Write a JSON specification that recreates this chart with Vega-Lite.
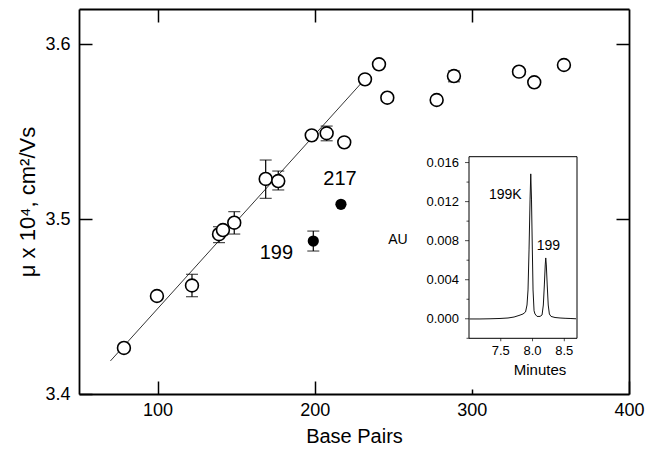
{
  "$schema": "https://vega.github.io/schema/vega-lite/v6.json",
  "width": 550,
  "height": 385,
  "autosize": "none",
  "padding": {"left": 79, "top": 9, "right": 18, "bottom": 57},
  "background": "white",
  "config": {
    "view": {"stroke": null},
    "font": "Liberation Sans",
    "axis": {"grid": false, "domainColor": "black", "tickColor": "black", "labelColor": "black", "titleColor": "black", "titleFontWeight": "normal", "labelFont": "Liberation Sans", "titleFont": "Liberation Sans"}
  },
  "datasets": {
    "points": [
      {"bp": 78.6, "mu": 3.4263, "kind": "open"},
      {"bp": 99.6, "mu": 3.456, "kind": "open"},
      {"bp": 121.9, "mu": 3.462, "lo": 3.4556, "hi": 3.4684, "kind": "open"},
      {"bp": 139.1, "mu": 3.4913, "lo": 3.4865, "hi": 3.4956, "kind": "open"},
      {"bp": 141.6, "mu": 3.4937, "kind": "open"},
      {"bp": 148.8, "mu": 3.4979, "lo": 3.4914, "hi": 3.5042, "kind": "open"},
      {"bp": 168.8, "mu": 3.5229, "lo": 3.5118, "hi": 3.5337, "kind": "open"},
      {"bp": 176.8, "mu": 3.5217, "lo": 3.5166, "hi": 3.5274, "kind": "open"},
      {"bp": 198.1, "mu": 3.5478, "kind": "open"},
      {"bp": 207.6, "mu": 3.549, "lo": 3.5447, "hi": 3.5531, "kind": "open"},
      {"bp": 218.8, "mu": 3.5438, "kind": "open"},
      {"bp": 232.0, "mu": 3.5798, "kind": "open"},
      {"bp": 240.9, "mu": 3.5884, "kind": "open"},
      {"bp": 246.2, "mu": 3.5693, "kind": "open"},
      {"bp": 277.6, "mu": 3.568, "kind": "open"},
      {"bp": 288.6, "mu": 3.5817, "lo": 3.5784, "hi": 3.5846, "kind": "open"},
      {"bp": 330.0, "mu": 3.5842, "kind": "open"},
      {"bp": 339.7, "mu": 3.5781, "kind": "open"},
      {"bp": 358.6, "mu": 3.588, "kind": "open"},
      {"bp": 199.1, "mu": 3.4874, "lo": 3.4817, "hi": 3.4931, "kind": "filled"},
      {"bp": 216.7, "mu": 3.5084, "kind": "filled"}
    ],
    "fit": [
      {"bp": 70, "mu": 3.4189},
      {"bp": 231, "mu": 3.579}
    ],
    "labels": [
      {"bp": 175.6, "mu": 3.4806, "text": "199"},
      {"bp": 216.1, "mu": 3.5229, "text": "217"}
    ],
    "frame": [
      {"t0": 7.0, "t1": 8.7, "a0": -0.002, "a1": 0.0166}
    ],
    "iyticks": [
      {"au": -0.002, "major": false, "label": ""},
      {"au": 0.0, "major": true, "label": "0.000"},
      {"au": 0.002, "major": false, "label": ""},
      {"au": 0.004, "major": true, "label": "0.004"},
      {"au": 0.006, "major": false, "label": ""},
      {"au": 0.008, "major": true, "label": "0.008"},
      {"au": 0.01, "major": false, "label": ""},
      {"au": 0.012, "major": true, "label": "0.012"},
      {"au": 0.014, "major": false, "label": ""},
      {"au": 0.016, "major": true, "label": "0.016"}
    ],
    "ixticks": [
      {"t": 7.5, "label": "7.5"},
      {"t": 8.0, "label": "8.0"},
      {"t": 8.5, "label": "8.5"}
    ],
    "trace": [
      {"t": 7.008, "au": -0.00002},
      {"t": 7.173, "au": -0.00002},
      {"t": 7.331, "au": 0.0},
      {"t": 7.488, "au": 0.00003},
      {"t": 7.614, "au": 0.00008},
      {"t": 7.709, "au": 0.00018},
      {"t": 7.787, "au": 0.00034},
      {"t": 7.85, "au": 0.00049},
      {"t": 7.89, "au": 0.0007},
      {"t": 7.913, "au": 0.00141},
      {"t": 7.929, "au": 0.00295},
      {"t": 7.945, "au": 0.00705},
      {"t": 7.961, "au": 0.01217},
      {"t": 7.972, "au": 0.01484},
      {"t": 7.984, "au": 0.01217},
      {"t": 7.997, "au": 0.00705},
      {"t": 8.008, "au": 0.00295},
      {"t": 8.024, "au": 0.00082},
      {"t": 8.039, "au": 0.00049},
      {"t": 8.071, "au": 0.00024},
      {"t": 8.118, "au": 0.00024},
      {"t": 8.15, "au": 0.00039},
      {"t": 8.17, "au": 0.00141},
      {"t": 8.186, "au": 0.00346},
      {"t": 8.2, "au": 0.00551},
      {"t": 8.208, "au": 0.00623},
      {"t": 8.217, "au": 0.00551},
      {"t": 8.231, "au": 0.00346},
      {"t": 8.247, "au": 0.00141},
      {"t": 8.265, "au": 0.00049},
      {"t": 8.291, "au": 0.00024},
      {"t": 8.354, "au": 0.00013},
      {"t": 8.433, "au": 0.00008},
      {"t": 8.512, "au": 0.00005},
      {"t": 8.591, "au": 0.00003},
      {"t": 8.685, "au": 0.0}
    ],
    "peaks": [
      {"t": 7.572, "au": 0.01268, "text": "199K"},
      {"t": 8.249, "au": 0.00746, "text": "199"}
    ],
    "ititles": [
      {"t": 5.882, "au": 0.00807, "text": "AU"},
      {"t": 8.118, "au": -0.00525, "text": "Minutes"}
    ]
  },
  "layer": [
    {
      "layer": [
        {
          "data": {"name": "fit"},
          "mark": {"type": "line", "color": "black", "strokeWidth": 0.8},
          "encoding": {
            "x": {"field": "bp", "type": "quantitative", "scale": {"domain": [50, 400], "nice": false, "zero": false},
              "axis": {"orient": "bottom", "values": [100, 200, 300, 400], "tickSize": {"condition": {"test": "datum.value == 300", "value": -5}, "value": -13}, "tickWidth": 1.5, "domainWidth": 1.8, "labelFontSize": 18, "labelPadding": {"condition": {"test": "datum.value == 300", "value": 12}, "value": 20}, "labelFlush": false, "labelOverlap": false, "title": "Base Pairs", "titleFontSize": 20, "titlePadding": 7}},
            "y": {"field": "mu", "type": "quantitative", "scale": {"domain": [3.4, 3.62], "nice": false, "zero": false},
              "axis": {"orient": "left", "values": [3.4, 3.5, 3.6], "format": ".1f", "tickSize": -13, "tickWidth": 1.5, "domainWidth": 1.8, "labelFontSize": 18, "labelPadding": 22, "labelFlush": false, "labelOverlap": false, "title": "μ x 10⁴, cm²/Vs", "titleFontSize": 22, "titlePadding": 5}}
          }
        },
        {
          "data": {"name": "points"},
          "transform": [{"filter": "isValid(datum.lo)"}],
          "mark": {"type": "rule", "color": "black", "strokeWidth": 1.2},
          "encoding": {
            "x": {"field": "bp", "type": "quantitative",
              "axis": {"orient": "top", "values": [100, 200, 300], "tickSize": -13, "tickWidth": 1.5, "domainWidth": 1.8, "labels": false, "title": null}},
            "y": {"field": "lo", "type": "quantitative",
              "axis": {"orient": "right", "values": [3.5, 3.6], "tickSize": -13, "tickWidth": 1.5, "domainWidth": 1.8, "labels": false, "title": null}},
            "y2": {"field": "hi"}
          }
        },
        {
          "data": {"name": "points"},
          "transform": [{"filter": "isValid(datum.lo)"}],
          "mark": {"type": "tick", "orient": "horizontal", "size": 12, "thickness": 1.2, "color": "black"},
          "encoding": {
            "x": {"field": "bp", "type": "quantitative", "axis": null},
            "y": {"field": "lo", "type": "quantitative", "axis": null}
          }
        },
        {
          "data": {"name": "points"},
          "transform": [{"filter": "isValid(datum.lo)"}],
          "mark": {"type": "tick", "orient": "horizontal", "size": 12, "thickness": 1.2, "color": "black"},
          "encoding": {
            "x": {"field": "bp", "type": "quantitative", "axis": null},
            "y": {"field": "hi", "type": "quantitative", "axis": null}
          }
        },
        {
          "data": {"name": "points"},
          "transform": [{"filter": "datum.kind == 'open'"}],
          "mark": {"type": "point", "shape": "circle", "size": 165, "fill": "white", "filled": false, "fillOpacity": 1, "stroke": "black", "strokeWidth": 1.6, "opacity": 1},
          "encoding": {
            "x": {"field": "bp", "type": "quantitative", "axis": null},
            "y": {"field": "mu", "type": "quantitative", "axis": null}
          }
        },
        {
          "data": {"name": "points"},
          "transform": [{"filter": "datum.kind == 'filled'"}],
          "mark": {"type": "point", "shape": "circle", "size": 125, "filled": true, "color": "black", "opacity": 1},
          "encoding": {
            "x": {"field": "bp", "type": "quantitative", "axis": null},
            "y": {"field": "mu", "type": "quantitative", "axis": null}
          }
        },
        {
          "data": {"name": "labels"},
          "mark": {"type": "text", "fontSize": 20, "align": "center", "baseline": "middle", "color": "black"},
          "encoding": {
            "x": {"field": "bp", "type": "quantitative", "axis": null},
            "y": {"field": "mu", "type": "quantitative", "axis": null},
            "text": {"field": "text"}
          }
        }
      ],
      "resolve": {"axis": {"x": "independent", "y": "independent"}}
    },
    {
      "layer": [
        {
          "data": {"name": "frame"},
          "mark": {"type": "rect", "fill": "white", "stroke": "black", "strokeWidth": 1},
          "encoding": {
            "x": {"field": "t0", "type": "quantitative", "scale": {"domain": [7.0, 8.7], "range": [390, 498], "nice": false, "zero": false}, "axis": null},
            "x2": {"field": "t1"},
            "y": {"field": "a0", "type": "quantitative", "scale": {"domain": [-0.002, 0.0166], "range": [329.3, 147.7], "nice": false, "zero": false}, "axis": null},
            "y2": {"field": "a1"}
          }
        },
        {
          "data": {"name": "iyticks"},
          "transform": [{"filter": "datum.major"}],
          "mark": {"type": "tick", "orient": "horizontal", "size": 4, "thickness": 1, "xOffset": -2, "color": "black"},
          "encoding": {
            "x": {"datum": 7.0, "type": "quantitative", "axis": null},
            "y": {"field": "au", "type": "quantitative", "axis": null}
          }
        },
        {
          "data": {"name": "iyticks"},
          "transform": [{"filter": "!datum.major"}],
          "mark": {"type": "tick", "orient": "horizontal", "size": 2.5, "thickness": 1, "xOffset": -1.25, "color": "black"},
          "encoding": {
            "x": {"datum": 7.0, "type": "quantitative", "axis": null},
            "y": {"field": "au", "type": "quantitative", "axis": null}
          }
        },
        {
          "data": {"name": "iyticks"},
          "transform": [{"filter": "datum.major"}],
          "mark": {"type": "text", "fontSize": 13, "align": "right", "baseline": "middle", "dx": -10, "color": "black"},
          "encoding": {
            "x": {"datum": 7.0, "type": "quantitative", "axis": null},
            "y": {"field": "au", "type": "quantitative", "axis": null},
            "text": {"field": "label"}
          }
        },
        {
          "data": {"name": "ixticks"},
          "mark": {"type": "tick", "orient": "vertical", "size": 3, "thickness": 1, "yOffset": 1.5, "color": "black"},
          "encoding": {
            "x": {"field": "t", "type": "quantitative", "axis": null},
            "y": {"datum": -0.002, "type": "quantitative", "axis": null}
          }
        },
        {
          "data": {"name": "ixticks"},
          "mark": {"type": "text", "fontSize": 13, "align": "center", "baseline": "middle", "dy": 13, "color": "black"},
          "encoding": {
            "x": {"field": "t", "type": "quantitative", "axis": null},
            "y": {"datum": -0.002, "type": "quantitative", "axis": null},
            "text": {"field": "label"}
          }
        },
        {
          "data": {"name": "trace"},
          "mark": {"type": "line", "color": "#111", "strokeWidth": 1},
          "encoding": {
            "x": {"field": "t", "type": "quantitative", "axis": null},
            "y": {"field": "au", "type": "quantitative", "axis": null}
          }
        },
        {
          "data": {"name": "peaks"},
          "mark": {"type": "text", "fontSize": 14, "align": "center", "baseline": "middle", "color": "black"},
          "encoding": {
            "x": {"field": "t", "type": "quantitative", "axis": null},
            "y": {"field": "au", "type": "quantitative", "axis": null},
            "text": {"field": "text"}
          }
        },
        {
          "data": {"name": "ititles"},
          "transform": [{"filter": "datum.text == 'AU'"}],
          "mark": {"type": "text", "fontSize": 14, "align": "center", "baseline": "middle", "color": "black"},
          "encoding": {
            "x": {"field": "t", "type": "quantitative", "axis": null},
            "y": {"field": "au", "type": "quantitative", "axis": null},
            "text": {"field": "text"}
          }
        },
        {
          "data": {"name": "ititles"},
          "transform": [{"filter": "datum.text == 'Minutes'"}],
          "mark": {"type": "text", "fontSize": 15, "align": "center", "baseline": "middle", "color": "black"},
          "encoding": {
            "x": {"field": "t", "type": "quantitative", "axis": null},
            "y": {"field": "au", "type": "quantitative", "axis": null},
            "text": {"field": "text"}
          }
        }
      ]
    }
  ],
  "resolve": {"scale": {"x": "independent", "y": "independent"}, "axis": {"x": "independent", "y": "independent"}}
}
